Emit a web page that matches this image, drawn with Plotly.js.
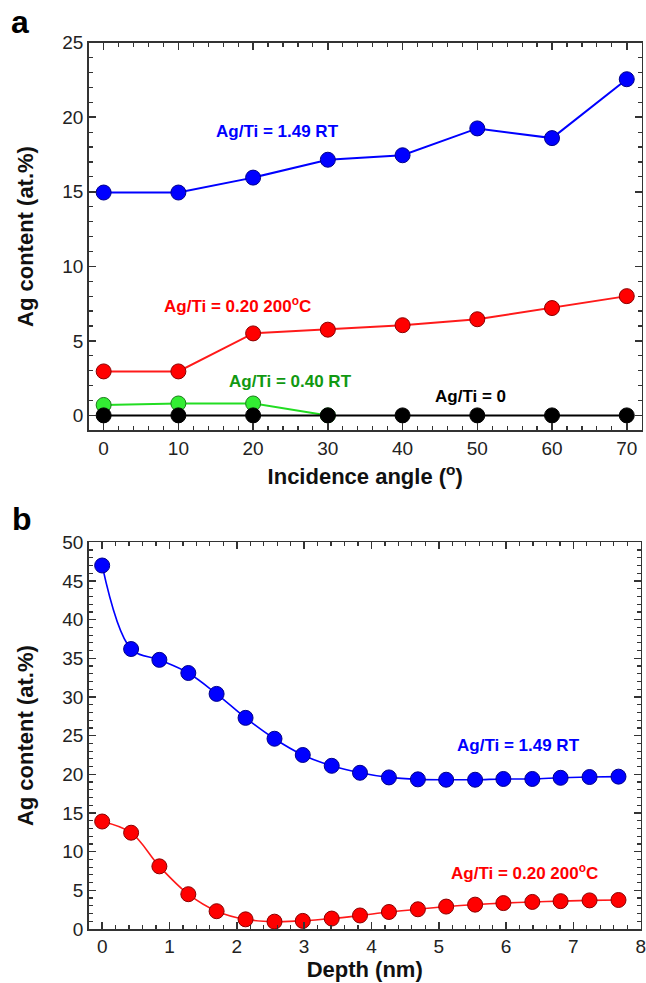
<!DOCTYPE html>
<html>
<head>
<meta charset="utf-8">
<script src="https://cdn.plot.ly/plotly-3.0.1.min.js"></script>
<style>
  html, body { margin: 0; padding: 0; background: #ffffff; }
  #chart { width: 646px; height: 983px; }
</style>
</head>
<body>
<div id="chart"></div>
<script>
// ---- Panel a: Ag content vs incidence angle ----
const anglesA = [0, 10, 20, 30, 40, 50, 60, 70];
const agTi149A = [14.95, 14.95, 15.95, 17.15, 17.45, 19.25, 18.6, 22.55];
const agTi020A = [2.95, 2.95, 5.5, 5.75, 6.05, 6.45, 7.2, 8.0];
const anglesGreen = [0, 10, 20, 30];
const agTi040A = [0.7, 0.8, 0.8, 0];
const agTi0A = [0, 0, 0, 0, 0, 0, 0, 0];

// ---- Panel b: Ag content vs depth ----
const depthB = [0, 0.43, 0.85, 1.28, 1.7, 2.13, 2.56, 2.98, 3.41, 3.83, 4.26, 4.69, 5.11, 5.54, 5.96, 6.39, 6.81, 7.24, 7.67];
const agTi149B = [47.0, 36.2, 34.8, 33.1, 30.4, 27.3, 24.6, 22.5, 21.1, 20.2, 19.6, 19.35, 19.3, 19.3, 19.4, 19.4, 19.55, 19.65, 19.7];
const agTi020B = [13.9, 12.45, 8.1, 4.5, 2.3, 1.25, 0.95, 1.05, 1.35, 1.75, 2.2, 2.55, 2.9, 3.15, 3.35, 3.5, 3.6, 3.7, 3.75];

const F = 'Liberation Sans, Arial, sans-serif';
const W = 646, H = 983;
const px = v => v / W;
const py = v => (H - v) / H;

function mk(color, line) {
  return { size: 15, color: color, line: { color: line || '#222', width: 1 } };
}

const traces = [
  { x: anglesA, y: agTi149A, mode: 'lines+markers', line: { color: '#0000ff', width: 2 }, marker: mk('#0000ff', '#00008a'), xaxis: 'x', yaxis: 'y', name: 'Ag/Ti = 1.49 RT' },
  { x: anglesA, y: agTi020A, mode: 'lines+markers', line: { color: '#ff1a1a', width: 2 }, marker: mk('#ff0000', '#8a0000'), xaxis: 'x', yaxis: 'y', name: 'Ag/Ti = 0.20 200°C' },
  { x: anglesGreen, y: agTi040A, mode: 'lines+markers', line: { color: '#22dd22', width: 2 }, marker: mk('#33ee33', '#1a7a1a'), xaxis: 'x', yaxis: 'y', name: 'Ag/Ti = 0.40 RT' },
  { x: anglesA, y: agTi0A, mode: 'lines+markers', line: { color: '#000000', width: 2 }, marker: mk('#000000', '#000000'), xaxis: 'x', yaxis: 'y', name: 'Ag/Ti = 0' },
  { x: depthB, y: agTi149B, mode: 'lines+markers', line: { color: '#0000ff', width: 1.6, shape: 'spline', smoothing: 1 }, marker: mk('#0000ff', '#00008a'), xaxis: 'x2', yaxis: 'y2', name: 'Ag/Ti = 1.49 RT' },
  { x: depthB, y: agTi020B, mode: 'lines+markers', line: { color: '#ff1a1a', width: 1.6, shape: 'spline', smoothing: 1 }, marker: mk('#ff0000', '#8a0000'), xaxis: 'x2', yaxis: 'y2', name: 'Ag/Ti = 0.20 200°C' }
];

function axis(extra) {
  return Object.assign({
    showline: true, linecolor: '#333', linewidth: 1.5, mirror: 'ticks',
    ticks: 'inside', ticklen: 7, tickwidth: 1.5, tickcolor: '#333',
    showgrid: false, zeroline: false,
    tickfont: { family: F, size: 19, color: '#222' },
    fixedrange: true
  }, extra);
}

const titleFont = { family: F, size: 22, color: '#111', weight: 'bold' };

function note(text, x, y, size, color) {
  return { text: text, xref: 'paper', yref: 'paper', x: px(x), y: py(y), xanchor: 'center', yanchor: 'middle',
           showarrow: false, font: { family: F, size: size, color: color, weight: 'bold' } };
}

const layout = {
  width: W, height: H,
  margin: { l: 0, r: 0, t: 0, b: 0 },
  paper_bgcolor: '#ffffff', plot_bgcolor: '#ffffff',
  showlegend: false,
  font: { family: F },
  xaxis: axis({
    domain: [px(88.7), px(641.7)], range: [-2, 72], anchor: 'y',
    tickvals: [0, 10, 20, 30, 40, 50, 60, 70],
    minor: { dtick: 2, tick0: 0, ticks: 'inside', ticklen: 4, tickwidth: 1.2, tickcolor: '#333' },
    title: { text: 'Incidence angle (<sup>o</sup>)', font: titleFont, standoff: 11 }
  }),
  yaxis: axis({
    domain: [py(430.3), py(42.7)], range: [-1, 25], anchor: 'x',
    tickvals: [0, 5, 10, 15, 20, 25],
    minor: { dtick: 1, tick0: 0, ticks: 'inside', ticklen: 4, tickwidth: 1.2, tickcolor: '#333' },
    title: { text: 'Ag content (at.%)', font: titleFont, standoff: 22 }
  }),
  xaxis2: axis({
    domain: [px(88.7), px(640.7)], range: [-0.2, 8], anchor: 'y2',
    tickvals: [0, 1, 2, 3, 4, 5, 6, 7, 8],
    minor: { dtick: 0.2, tick0: 0, ticks: 'inside', ticklen: 4, tickwidth: 1.2, tickcolor: '#333' },
    title: { text: 'Depth (nm)', font: titleFont, standoff: 3 }
  }),
  yaxis2: axis({
    domain: [py(929), py(542.3)], range: [0, 50], anchor: 'x2',
    tickvals: [0, 5, 10, 15, 20, 25, 30, 35, 40, 45, 50],
    minor: { dtick: 1, tick0: 0, ticks: 'inside', ticklen: 4, tickwidth: 1.2, tickcolor: '#333' },
    title: { text: 'Ag content (at.%)', font: titleFont, standoff: 22 }
  }),
  annotations: [
    note('a', 20, 22, 32, '#000'),
    note('b', 22, 519, 32, '#000'),
    note('Ag/Ti = 1.49 RT', 277, 131.5, 17, '#0000ff'),
    note('Ag/Ti = 0.20 200<sup>o</sup>C', 237, 305, 17, '#ff0000'),
    note('Ag/Ti = 0.40 RT', 290, 381.5, 17, '#119911'),
    note('Ag/Ti = 0', 470, 396.5, 17, '#000'),
    note('Ag/Ti = 1.49 RT', 518, 745, 17, '#0000ff'),
    note('Ag/Ti = 0.20 200<sup>o</sup>C', 524, 872, 17, '#ff0000')
  ]
};

Plotly.newPlot('chart', traces, layout, { staticPlot: true, displayModeBar: false });
</script>
</body>
</html>
